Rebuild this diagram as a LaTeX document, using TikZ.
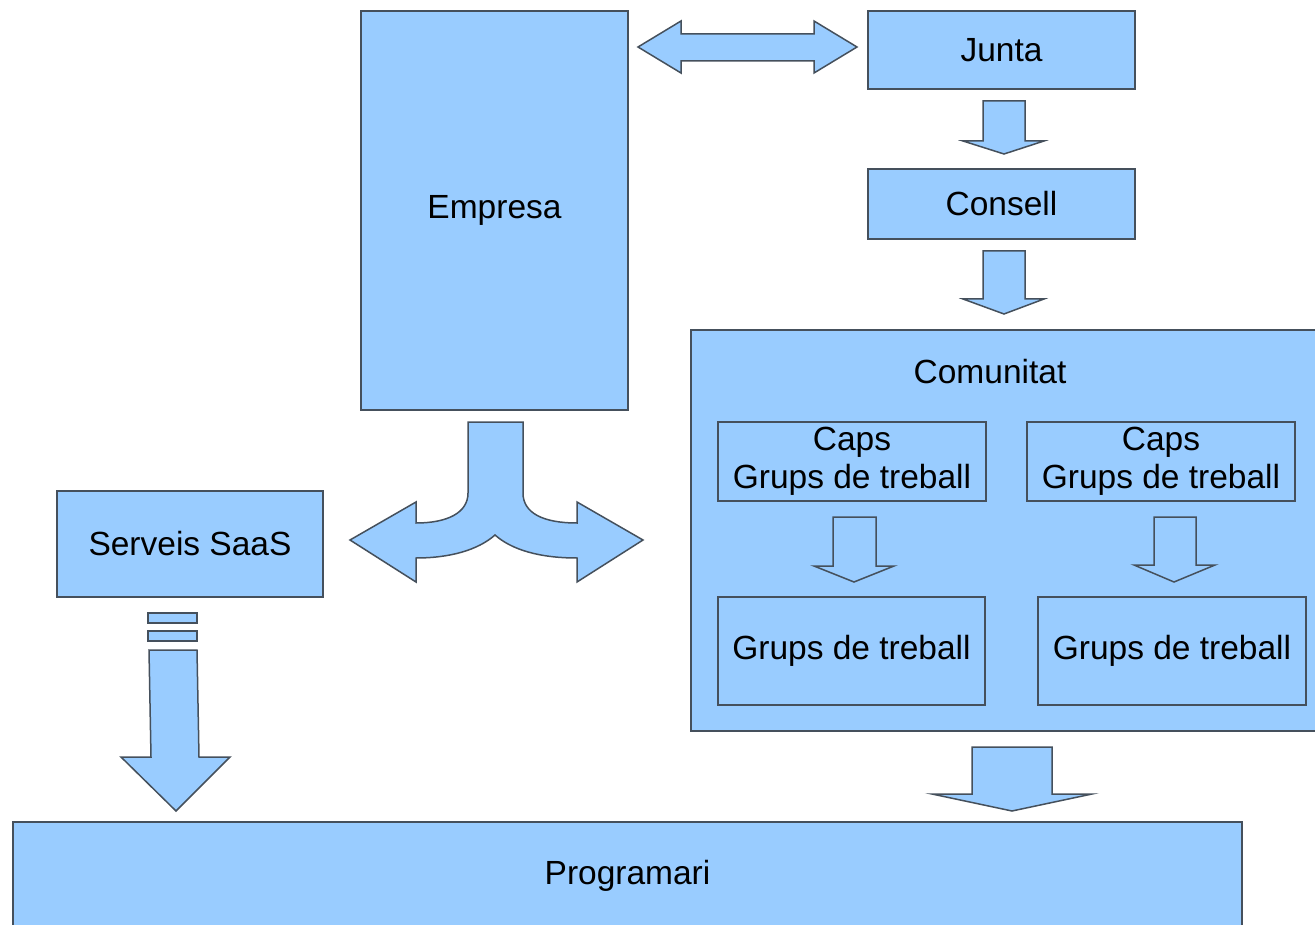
\documentclass[tikz,border=0pt]{standalone}
\usepackage{fontspec}
\setmainfont{Liberation Sans}
\definecolor{bfill}{HTML}{99CCFF}
\definecolor{bline}{HTML}{45505C}
\tikzset{
  blk/.style={draw=bline, fill=bfill, line width=1.5pt, inner sep=0pt, align=center,
    font=\fontsize{33.5}{38.5}\selectfont},
  barrow/.style={draw=bline, fill=bfill, line width=1.5pt, line join=miter},
  txt/.style={inner sep=0pt, align=center, font=\fontsize{33.5}{38.5}\selectfont}
}
\begin{document}
\begin{tikzpicture}[x=1pt,y=-1pt]
\useasboundingbox (0,0) rectangle (1315,925);
% boxes
\node[blk, minimum width=267pt, minimum height=399pt] (empresa) at (494.5,210.5) {Empresa};
\node[blk, minimum width=267pt, minimum height=78pt] (junta) at (1001.5,50) {Junta};
\node[blk, minimum width=267pt, minimum height=70pt] (consell) at (1001.5,204) {Consell};
\node[blk, minimum width=629pt, minimum height=401pt] (comunitat) at (1005.5,530.5) {};
\node[txt] (comtitle) at (990,372) {Comunitat};
\node[blk, minimum width=268pt, minimum height=79pt] (caps1) at (852,461.5) {Caps\\Grups de treball};
\node[blk, minimum width=268pt, minimum height=79pt] (caps2) at (1161,461.5) {Caps\\Grups de treball};
\node[blk, minimum width=267pt, minimum height=108pt] (grups1) at (851.5,651) {Grups de treball};
\node[blk, minimum width=268pt, minimum height=108pt] (grups2) at (1172,651) {Grups de treball};
\node[blk, minimum width=266pt, minimum height=106pt] (serveis) at (190,544) {Serveis SaaS};
\node[blk, minimum width=1229pt, minimum height=108pt] (programari) at (627.5,876) {Programari};
% double arrow Empresa <-> Junta
\draw[barrow] (638,47) -- (681,21) -- (681,34) -- (814,34) -- (814,21) -- (857,47)
  -- (814,73) -- (814,61) -- (681,61) -- (681,73) -- cycle;
% Junta -> Consell
\draw[barrow] (983,101) -- (1025,101) -- (1025,141) -- (1044,141) -- (1004,154)
  -- (963,141) -- (983,141) -- cycle;
% Consell -> Comunitat
\draw[barrow] (983,251) -- (1025,251) -- (1025,299) -- (1044,299) -- (1004,314)
  -- (963,299) -- (983,299) -- cycle;
% Caps -> Grups
\draw[barrow] (833,517) -- (876,517) -- (876,566) -- (894,566) -- (854,582)
  -- (814,566) -- (833,566) -- cycle;
\draw[barrow] (1154,517) -- (1196,517) -- (1196,565) -- (1215,565) -- (1174,582)
  -- (1134,565) -- (1154,565) -- cycle;
% Comunitat -> Programari
\draw[barrow] (972,747) -- (1052,747) -- (1052,794) -- (1092,794) -- (1012,811)
  -- (932,794) -- (972,794) -- cycle;
% split arrow under Empresa
\draw[barrow] (468,422) -- (523,422) -- (523,493)
  .. controls (523,513) and (543,523) .. (577,523) -- (577,502) -- (643,540)
  -- (577,582) -- (577,558)
  .. controls (540,558) and (512,550) .. (495,535)
  .. controls (478,550) and (450,558) .. (416,558) -- (416,582) -- (350,540)
  -- (416,502) -- (416,523)
  .. controls (447,523) and (468,513) .. (468,493) -- cycle;
% Serveis SaaS -> Programari (striped arrow)
\draw[barrow] (148,613) rectangle (197,623);
\draw[barrow] (148,631) rectangle (197,641);
\draw[barrow] (149,650) -- (197,650) -- (199,757) -- (230,757) -- (176,811)
  -- (121,757) -- (151,757) -- cycle;
\end{tikzpicture}
\end{document}
